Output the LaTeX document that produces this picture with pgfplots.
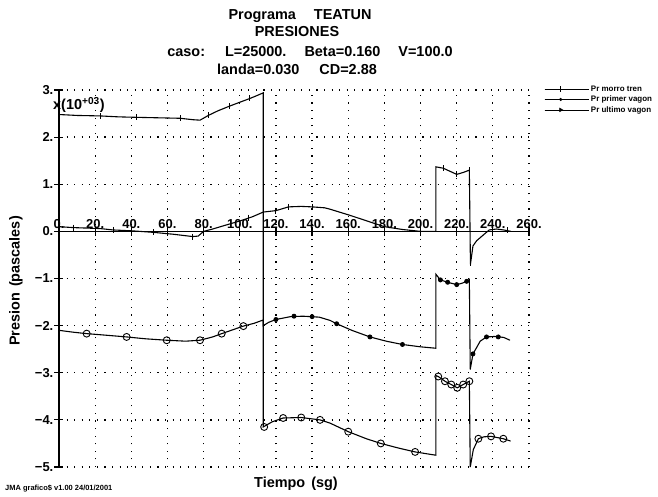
\documentclass[border=0pt]{standalone}
\usepackage{pgfplots}
\pgfplotsset{compat=1.18}
\usepackage{fontspec}
\setmainfont{Liberation Sans}
\begin{document}
\begin{tikzpicture}
\useasboundingbox (-59bp,-30bp) rectangle (599bp,467bp);
\begin{axis}[
 at={(0,0)}, anchor=south west,
 scale only axis, width=470bp, height=377bp,
 xmin=0, xmax=260, ymin=-5, ymax=3,
 axis x line=middle, axis y line=left,
 axis line style={-, line width=1.3pt},
 xtick={0,20,...,260}, ytick={-5,-4,...,3},
 xmajorticks=true, ymajorticks=true,
 xticklabels={0.,20.,40.,60.,80.,100.,120.,140.,160.,180.,200.,220.,240.,260.},
 yticklabels={−5.,−4.,−3.,−2.,−1.,0.,1.,2.,3.},
 ticklabel style={font=\fontsize{13}{13}\selectfont\bfseries},
 xticklabel style={anchor=south, inner sep=0pt, yshift=7bp},
 yticklabel style={inner sep=1pt},
 tick align=center, major tick length=9bp,
 major tick style={black, line width=1.2pt, solid},
 grid=major,
 every major grid/.style={black, line width=1.3pt, dash pattern=on 1.1pt off 6.5pt},
 hide obscured x ticks=false, hide obscured y ticks=false,
 clip=false,
 legend style={at={(1.03,1.02)}, anchor=north west, draw=none, fill=none,
   font=\fontsize{8}{8.5}\selectfont\bfseries, row sep=-0.8pt, inner sep=1pt},
 legend cell align=left,
 legend image code/.code={\path (0bp,0bp) -- (44bp,0bp); \draw[mark repeat=2,mark phase=2,#1] plot coordinates {(0bp,0bp) (16bp,0bp) (32bp,0bp)};},
]
% legend
\addlegendimage{black, line width=0.7pt, mark=|, mark size=3}
\addlegendentry{Pr morro tren}
\addlegendimage{black, line width=0.7pt, mark=*, mark size=1.2}
\addlegendentry{Pr primer vagon}
\addlegendimage{black, line width=0.7pt, mark=triangle*, mark size=2, mark options={rotate=-90}}
\addlegendentry{Pr ultimo vagon}

% top / bottom curve
\addplot[forget plot, black, line width=1.1pt] coordinates {
(0,2.48)(10,2.46)(22.7,2.45)(33,2.43)(43,2.42)(55,2.41)(67,2.40)(74,2.37)(78,2.36)(82.6,2.46)(88,2.56)(94.5,2.66)(100,2.74)(105.6,2.82)(110,2.89)(113,2.94)
(113,-4.15)(118,-4.04)(124,-3.96)(134,-3.95)(144.4,-4.0)(150,-4.07)(160,-4.25)(170,-4.40)(178,-4.50)(188,-4.60)(197,-4.68)(208.5,-4.75)
(208.5,-3.06)(209.8,-3.08)(213.5,-3.18)(217,-3.25)(220.3,-3.32)(223.6,-3.25)(227,-3.18)(227.5,-5.0)(229.2,-4.63)(232,-4.40)(235,-4.36)(239,-4.35)(245.8,-4.40)(249.8,-4.45)};
\addplot[forget plot, only marks, black, mark=|, mark size=3, line width=0.9pt] coordinates {
(22.7,2.45)(43,2.42)(67,2.40)(82.6,2.46)(94.5,2.66)(105.6,2.82)};
\addplot[forget plot, only marks, black, mark=o, mark size=3.5, line width=0.9pt] coordinates {
(113.5,-4.15)(124,-3.96)(134,-3.95)(144.4,-4.0)(160,-4.25)(178,-4.50)(197,-4.68)
(209.8,-3.08)(213.5,-3.18)(217,-3.25)(220.3,-3.32)(223.6,-3.25)(227,-3.18)
(232,-4.40)(239,-4.35)(245.8,-4.40)};

% near-zero curve
\addplot[forget plot, black, line width=1.1pt] coordinates {
(0,0.10)(8,0.08)(22.7,0.06)(30,0.03)(41,0.01)(52,-0.02)(63,-0.06)(74,-0.11)(77,-0.1)(80,0.0)(85,0.05)(92,0.13)(100,0.22)(107,0.31)(113,0.41)(120,0.44)(127,0.52)(134,0.53)(140,0.52)(147,0.50)(150,0.47)(161,0.34)(172,0.20)(180,0.10)(190,0.04)(200,0.0)(208.5,0.0)
(208.5,1.37)(212.6,1.34)(216,1.28)(220,1.21)(223.6,1.25)(227,1.30)(227.6,-0.70)(229,-0.31)(231,-0.2)(234,-0.1)(238,0.03)(242,0.05)(246,0.03)(250,0.0)};
\addplot[forget plot, only marks, black, mark=|, mark size=3, line width=0.9pt] coordinates {
(8,0.08)(30,0.03)(52,-0.02)(74,-0.11)(105,0.29)(120,0.44)(127,0.52)(140,0.52)(180,0.10)(200,0.0)(212.6,1.34)(220,1.21)(227,1.30)(227.8,-0.68)(240,0.04)(248,0.02)};

% -2 curve
\addplot[forget plot, black, line width=1.1pt] coordinates {
(0,-2.10)(8,-2.14)(15.3,-2.17)(25,-2.20)(37.4,-2.24)(48,-2.28)(59.6,-2.31)(70,-2.33)(78,-2.31)(85,-2.24)(90,-2.17)(96,-2.09)(102,-2.01)(108,-1.95)(113,-1.88)
(113,-2.0)(116,-1.93)(120,-1.87)(128,-1.81)(135,-1.80)(144,-1.82)(150,-1.89)(153.6,-1.96)(162,-2.1)(172,-2.24)(181,-2.33)(190,-2.40)(200,-2.45)(208.5,-2.48)
(208.5,-0.91)(211,-1.03)(215,-1.08)(220,-1.13)(223,-1.10)(225.5,-1.06)(227,-1.02)(227.5,-2.93)(229,-2.6)(230.5,-2.5)(233,-2.33)(236.5,-2.24)(241,-2.23)(246,-2.25)(249.5,-2.31)};
\addplot[forget plot, only marks, black, mark=o, mark size=3.5, line width=0.9pt] coordinates {
(15.3,-2.17)(37.4,-2.24)(59.6,-2.31)(78,-2.31)(90,-2.17)(102,-2.01)};
\addplot[forget plot, only marks, black, mark=*, mark size=2, line width=0.9pt] coordinates {
(120,-1.87)(130,-1.80)(140,-1.81)(153.6,-1.96)(172,-2.24)(190,-2.40)(211,-1.03)(215,-1.08)(220,-1.13)(225.5,-1.06)(229,-2.6)(236.5,-2.24)(243,-2.24)};
\end{axis}
% titles and labels
\begin{scope}[every node/.style={font=\fontsize{14.5}{14.5}\selectfont\bfseries, inner sep=0pt}]
\node[anchor=base] at (241bp,447.5bp) {Programa\hspace{18bp}TEATUN};
\node[anchor=base] at (238bp,430bp) {PRESIONES};
\node[anchor=base] at (251bp,410bp) {caso:\hspace{20bp}L=25000.\hspace{18bp}Beta=0.160\hspace{18bp}V=100.0};
\node[anchor=base] at (238bp,392bp) {landa=0.030\hspace{20bp}CD=2.88};
\node[anchor=base west] at (-6bp,357bp) {x(10\textsuperscript{+03})};
\node[anchor=base] at (237bp,-20bp) {Tiempo\hspace{6bp}(sg)};
\node[rotate=90] at (-43bp,186bp) {Presion\hspace{6bp}(pascales)};
\end{scope}
\node[anchor=base west, inner sep=0pt, font=\fontsize{7.5}{8}\selectfont\bfseries] at (-54bp,-23bp) {JMA grafico\$ v1.00 24/01/2001};
\end{tikzpicture}
\end{document}
